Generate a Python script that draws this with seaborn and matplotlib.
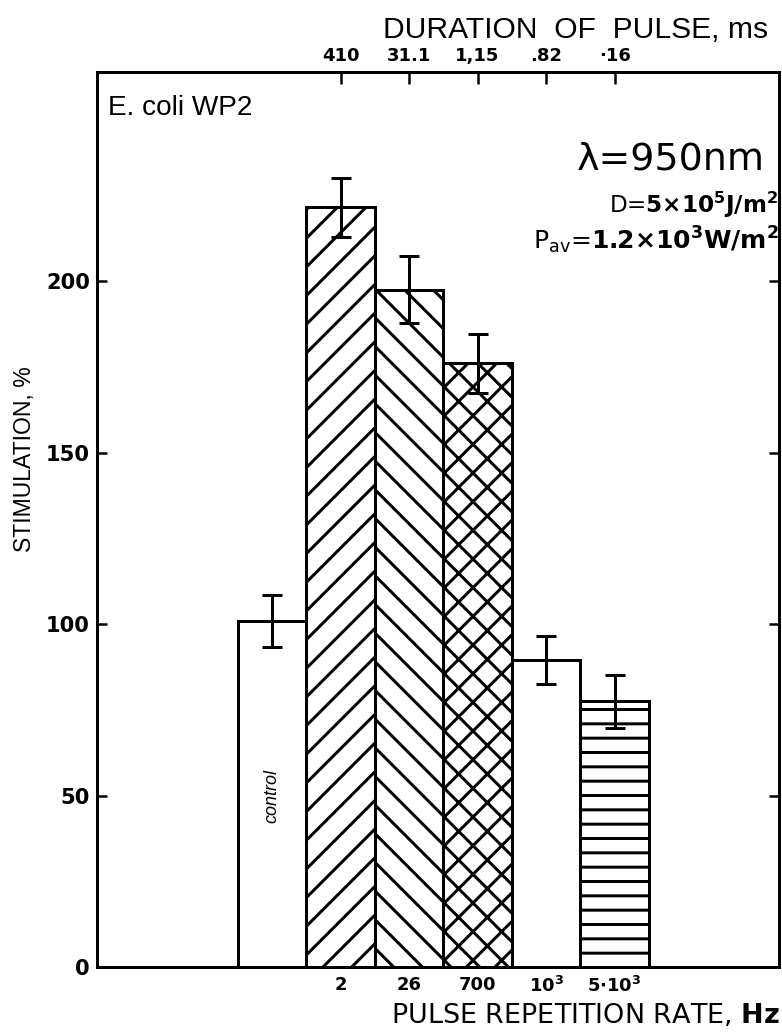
import matplotlib
matplotlib.use("Agg")
import matplotlib.pyplot as plt
import seaborn as sns
import pandas as pd

# ---- data ----
categories = ["control", "2", "26", "700", "1000", "5000"]
stimulation = [101.0, 221.5, 197.5, 176.0, 89.5, 77.5]
errors = [7.6, 8.7, 9.7, 8.5, 7.0, 7.7]
hatches = ["", "/", "\\", "x", "", "-"]
rate_labels = ["2", "26", "700", r"10$^{\mathbf{3}}$", r"5$\cdot$10$^{\mathbf{3}}$"]
duration_labels = ["410", "31.1", "1,15", ".82", "\u00b716"]
y_ticks = [0, 50, 100, 150, 200]

DPI = 86
W, H = 782, 1035


def P(px):
    """pixels -> points at the chosen dpi"""
    return px * 72.0 / DPI


sns.set_theme(style="ticks")
plt.rcParams['font.family'] = ['Liberation Sans', 'DejaVu Sans']
plt.rcParams['hatch.linewidth'] = P(3)
plt.rcParams['mathtext.fontset'] = 'custom'
plt.rcParams['mathtext.rm'] = 'DejaVu Sans'
plt.rcParams['mathtext.bf'] = 'DejaVu Sans:bold'
plt.rcParams['mathtext.it'] = 'DejaVu Sans:italic'
plt.rcParams['mathtext.default'] = 'regular'
for k in ['text.color', 'axes.labelcolor', 'xtick.color', 'ytick.color', 'axes.edgecolor']:
    plt.rcParams[k] = 'black'

fig = plt.figure(figsize=(W / DPI, H / DPI), dpi=DPI)
fig.patch.set_facecolor("white")
ax = fig.add_axes([97 / W, 1 - 967 / H, (779 - 97) / W, (967 - 72) / H])

df = pd.DataFrame({"rate": categories, "stim": stimulation})
sns.barplot(data=df, x="rate", y="stim", order=categories, color="white",
            edgecolor="black", linewidth=P(3), width=1.0, saturation=1,
            errorbar=None, ax=ax)
for p, h in zip(ax.patches, hatches):
    p.set_hatch(h)
    p.set_facecolor("white")
    p.set_edgecolor("black")

ax.errorbar(range(len(categories)), stimulation, yerr=errors, fmt="none",
            ecolor="black", elinewidth=P(3), capsize=P(10), capthick=P(3), zorder=5)

bold_num = dict(family="DejaVu Sans", fontweight="bold")

ax.set_xlim(-2.555, 7.40)
ax.set_ylim(0, 261)
ax.set_yticks(y_ticks)
ax.set_yticklabels([str(t) for t in y_ticks], fontsize=P(21), **bold_num)
ax.tick_params(axis="y", direction="in", length=P(10), width=P(2.5), right=True,
               labelright=False, pad=P(7))
ax.set_xticks([1, 2, 3, 4, 5])
ax.set_xticklabels(rate_labels, fontsize=P(18), **bold_num)
ax.tick_params(axis="x", length=0, pad=P(9))
ax.set_xlabel("")
ax.set_ylabel("")
for s in ax.spines.values():
    s.set_linewidth(P(3))
    s.set_color("black")

sec = ax.secondary_xaxis("top")
sec.set_xticks([1, 2, 3, 4, 5])
sec.set_xticklabels(duration_labels, fontsize=P(18), **bold_num)
sec.tick_params(direction="in", length=P(12), width=P(2.5), pad=P(7))
sec.spines["top"].set_linewidth(P(3))

# ---- texts ----
fig.text(768 / W, 1 - 30 / H, "DURATION  OF  PULSE, ms", ha="right", va="center",
         fontsize=P(30))
fig.text(780 / W, 1 - 1015 / H, r"PULSE REPETITION RATE, $\mathbf{Hz}$", ha="right",
         va="center", fontsize=P(27), family="DejaVu Sans")
fig.text(25 / W, 1 - 459 / H, "STIMULATION, %", rotation=90, ha="center", va="center",
         fontsize=P(23))
fig.text(108 / W, 1 - 108 / H, "E. coli WP2", ha="left", va="center", fontsize=P(28))
fig.text(765 / W, 1 - 160 / H, "\u03bb=950nm", ha="right", va="center", fontsize=P(38),
         family="DejaVu Sans")
fig.text(778 / W, 1 - 205 / H, r"D=$\mathbf{5{\times}10^5J/m^2}$", ha="right", va="center",
         fontsize=P(23), family="DejaVu Sans")
fig.text(779 / W, 1 - 240 / H, r"P$_{av}$=$\mathbf{1.2{\times}10^3W/m^2}$", ha="right",
         va="center", fontsize=P(25), family="DejaVu Sans")
ax.text(0, 50, "control", rotation=90, ha="center", va="center", fontsize=P(18),
        style="italic")

fig.savefig("out.png", dpi=DPI, facecolor="white")
